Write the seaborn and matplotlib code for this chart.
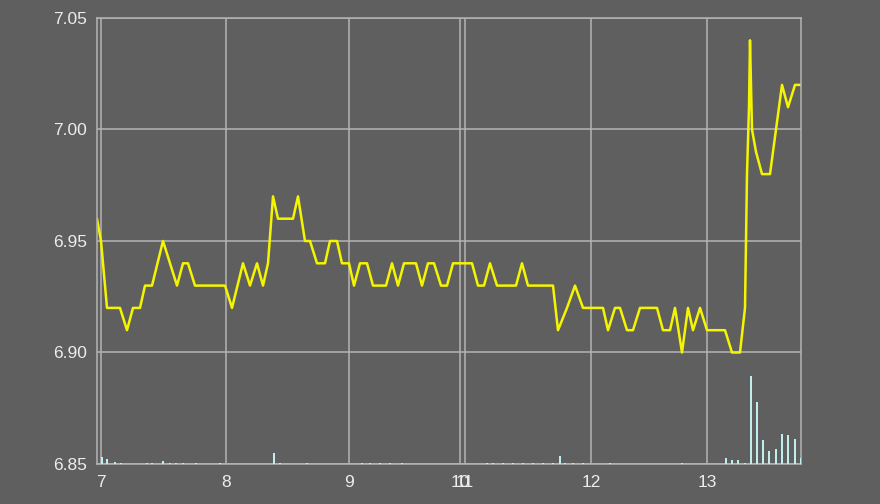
import matplotlib
matplotlib.use("Agg")
import matplotlib.pyplot as plt
import seaborn as sns
import pandas as pd

# price line: time slot (intraday, compressed axis) and price
t = [0, 4, 10, 23, 30, 36, 43, 48, 55, 66, 80, 86, 91, 98, 128, 135, 146, 153,
     160, 166, 171, 176, 181, 196, 201, 208, 213, 220, 228, 233, 240, 245, 252,
     257, 263, 270, 276, 289, 295, 301, 307, 319, 325, 331, 337, 344, 350, 356,
     375, 381, 387, 393, 400, 419, 425, 431, 456, 461, 470, 478, 486, 506, 511,
     518, 523, 530, 536, 543, 560, 566, 573, 578, 585, 591, 596, 603, 610, 628,
     635, 643, 648, 650, 652, 653, 655, 659, 665, 673, 685, 691, 698, 704]
price = [6.96, 6.95, 6.92, 6.92, 6.91, 6.92, 6.92, 6.93, 6.93, 6.95, 6.93, 6.94,
         6.94, 6.93, 6.93, 6.92, 6.94, 6.93, 6.94, 6.93, 6.94, 6.97, 6.96, 6.96,
         6.97, 6.95, 6.95, 6.94, 6.94, 6.95, 6.95, 6.94, 6.94, 6.93, 6.94, 6.94,
         6.93, 6.93, 6.94, 6.93, 6.94, 6.94, 6.93, 6.94, 6.94, 6.93, 6.93, 6.94,
         6.94, 6.93, 6.93, 6.94, 6.93, 6.93, 6.94, 6.93, 6.93, 6.91, 6.92, 6.93,
         6.92, 6.92, 6.91, 6.92, 6.92, 6.91, 6.91, 6.92, 6.92, 6.91, 6.91, 6.92,
         6.90, 6.92, 6.91, 6.92, 6.91, 6.91, 6.90, 6.90, 6.92, 6.98, 7.01, 7.04,
         7.00, 6.99, 6.98, 6.98, 7.02, 7.01, 7.02, 7.02]

# volume bars
vol_t = [5, 10, 18, 24, 50, 55, 66, 73, 79, 86, 99, 123, 177, 183, 210, 265,
         273, 283, 293, 305, 390, 396, 406, 416, 426, 436, 446, 456, 463, 468,
         476, 486, 513, 585, 629, 635, 641, 648, 654, 660, 666, 672, 679, 685,
         691, 698, 704]
vol = [70, 50, 20, 10, 10, 10, 30, 10, 10, 10, 10, 10, 110, 10, 10, 10,
       10, 10, 10, 10, 10, 10, 10, 10, 10, 10, 10, 10, 80, 10,
       10, 10, 10, 10, 60, 40, 40, 10, 880, 620, 240, 130, 150, 300,
       290, 250, 60]

tick_pos = [4, 129, 252, 363, 368, 494, 610]
tick_lab = ["7", "8", "9", "10", "11", "12", "13"]

bg = "#5f5f5f"
grid = "#b4b4b4"
txt = "#ececec"

sns.set_theme(style="darkgrid")
plt.rcParams["font.family"] = ["Liberation Sans", "DejaVu Sans"]

df = pd.DataFrame({"t": t, "price": price})

fig = plt.figure(figsize=(8.8, 5.04), dpi=100, facecolor=bg)
ax = fig.add_axes([97 / 880, 40 / 504, 704 / 880, 446 / 504])
ax.set_facecolor(bg)

sns.lineplot(data=df, x="t", y="price", ax=ax, color="#f5f500", lw=1.8)

ax2 = ax.twinx()
ax2.bar(vol_t, vol, width=1.6, color="#bfeeee", linewidth=0)
ax2.set_ylim(0, 4460)
ax2.set_yticks([])
ax2.grid(False)
for s in ax2.spines.values():
    s.set_visible(False)

ax.set_xlim(0, 704)
ax.set_ylim(6.85, 7.05)
ax.set_yticks([6.85, 6.90, 6.95, 7.00, 7.05])
ax.set_yticklabels(["6.85", "6.90", "6.95", "7.00", "7.05"])
ax.set_xticks(tick_pos)
ax.set_xticklabels(tick_lab)
ax.grid(True, color=grid, lw=1.1)
ax.tick_params(colors=txt, labelsize=12.5, length=0)
ax.tick_params(axis="y", pad=7)
ax.tick_params(axis="x", pad=8)
ax.set_xlabel("")
ax.set_ylabel("")
for s in ax.spines.values():
    s.set_visible(True)
    s.set_color(grid)
    s.set_linewidth(1.1)

fig.savefig("out.png", dpi=100, facecolor=bg)
